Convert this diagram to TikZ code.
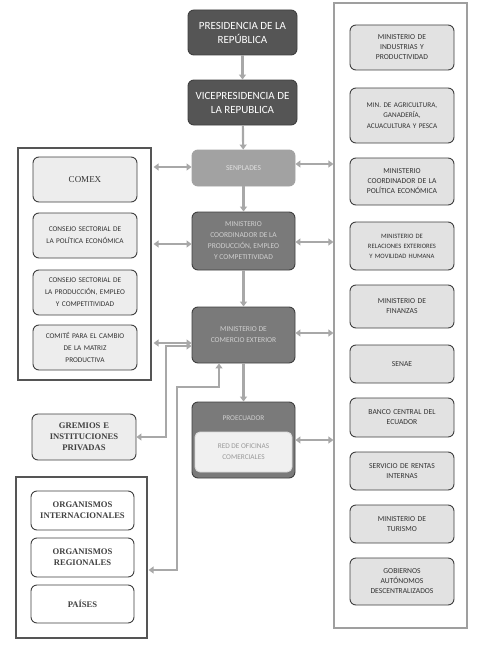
\documentclass[tikz,border=0pt]{standalone}
\usepackage{fontspec}
\setmainfont{Liberation Serif}
\newfontfamily\carl{Carlito}
\usetikzlibrary{arrows.meta,positioning,calc}
\definecolor{darkbox}{HTML}{555555}
\definecolor{midbox}{HTML}{7A7A7A}
\definecolor{lightmid}{HTML}{A2A2A2}
\definecolor{arrowgray}{HTML}{A8A8A8}
\definecolor{edgegray}{HTML}{3F3F3F}
\definecolor{boxfill}{HTML}{E2E2E2}
\definecolor{paleFill}{HTML}{EDEDED}
\definecolor{faint}{HTML}{CFCFCF}
\tikzset{
  rbox/.style={draw=edgegray, line width=0.9pt, rounded corners=6pt, align=center, inner sep=1pt},
  topbox/.style={rbox, fill=darkbox, text=white, font=\carl\fontsize{11}{14}\selectfont, minimum width=109pt, minimum height=45pt},
  centbox/.style={rbox, fill=midbox, text=faint, font=\carl\fontsize{7.5}{11}\selectfont, minimum width=103pt},
  rightbox/.style={rbox, fill=boxfill, text=black!80, font=\carl\fontsize{7.6}{10}\selectfont, minimum width=104pt, text width=102pt},
  leftbox/.style={rbox, fill=paleFill, text=black!80, font=\carl\fontsize{7.3}{12}\selectfont, minimum width=104pt, minimum height=45pt, text width=102pt},
  serifbox/.style={rbox, fill=white, text=black!75, font=\bfseries\fontsize{8.6}{11}\selectfont, minimum width=103pt, text width=101pt},
  frame/.style={draw=#1, line width=1.2pt, fill=white},
  conn/.style={draw=arrowgray, line width=2.2pt, -{Triangle[length=5pt,width=7pt]}},
  dconn/.style={draw=arrowgray, line width=2.2pt, {Triangle[length=5pt,width=7pt]}-{Triangle[length=5pt,width=7pt]}},
}
\begin{document}
\begin{tikzpicture}[x=1pt,y=-1pt]
\useasboundingbox (0,0) rectangle (487,661);
% frames
\node[frame=gray!75, minimum width=133pt, minimum height=625pt, inner sep=0pt] (rf) at (400.5,315.5) {};
\node[frame=darkbox, minimum width=133pt, minimum height=232pt, inner sep=0pt] (lf) at (84.5,264) {};
\node[frame=darkbox, minimum width=131pt, minimum height=161pt, inner sep=0pt] (bf) at (81.5,557.5) {};

% central column
\node[topbox] (pres) at (242.5,32.5) {PRESIDENCIA DE LA\\REPÚBLICA};
\node[topbox] (vice) at (242.5,102.5) {VICEPRESIDENCIA DE\\LA REPUBLICA};
\node[centbox, fill=lightmid, minimum height=36pt, draw=lightmid, text=white!88!black] (senp) at (243.5,168) {SENPLADES};
\node[centbox, minimum height=58pt] (mcp) at (243.5,241) {MINISTERIO\\COORDINADOR DE LA\\PRODUCCIÓN, EMPLEO\\Y COMPETITIVIDAD};
\node[centbox, minimum height=56pt] (mce) at (243.5,335) {MINISTERIO DE\\COMERCIO EXTERIOR};
\node[centbox, minimum height=76pt] (proe) at (243.5,440) {};
\node[font=\carl\fontsize{7.3}{9}\selectfont, text=faint] (proet) at (243.5,418) {PROECUADOR};
\node[rbox, draw=white!85!black, fill=white!94!black, rounded corners=5pt, minimum width=97pt, minimum height=40pt, text=black!40, font=\carl\fontsize{7.3}{11}\selectfont] (red) at (243.5,452) {RED DE OFICINAS\\COMERCIALES};

% left column
\node[leftbox, font=\fontsize{9}{11}\selectfont] (comex) at (85,179.5) {COMEX};
\node[leftbox] (cs1) at (85,235.5) {CONSEJO SECTORIAL DE\\LA POLÍTICA ECONÓMICA};
\node[leftbox] (cs2) at (85,292.5) {CONSEJO SECTORIAL DE\\LA PRODUCCIÓN, EMPLEO\\Y COMPETITIVIDAD};
\node[leftbox] (cmt) at (85,347.5) {COMITÉ PARA EL CAMBIO\\DE LA MATRIZ\\PRODUCTIVA};
\node[serifbox, fill=paleFill, minimum height=46pt, minimum width=104pt] (grem) at (84,437) {GREMIOS E\\INSTITUCIONES\\PRIVADAS};
\node[serifbox, minimum height=39pt] (oi) at (82.5,510.5) {ORGANISMOS\\INTERNACIONALES};
\node[serifbox, minimum height=39pt] (or) at (82.5,557.5) {ORGANISMOS\\REGIONALES};
\node[serifbox, minimum height=38pt] (pai) at (82.5,604) {PAÍSES};

% right column
\node[rightbox, minimum height=45pt] (r1) at (402,47.5) {MINISTERIO DE\\INDUSTRIAS Y\\PRODUCTIVIDAD};
\node[rightbox, minimum height=55pt, font=\carl\fontsize{7.2}{10.5}\selectfont] (r2) at (402,115.5) {MIN.\ DE AGRICULTURA,\\GANADERÍA,\\ACUACULTURA Y PESCA};
\node[rightbox, minimum height=47pt] (r3) at (402,181.5) {MINISTERIO\\COORDINADOR DE LA\\POLÍTICA ECONÓMICA};
\node[rightbox, minimum height=48pt, font=\carl\fontsize{6.6}{10}\selectfont] (r4) at (402,246) {MINISTERIO DE\\RELACIONES EXTERIORES\\Y MOVILIDAD HUMANA};
\node[rightbox, minimum height=43pt] (r5) at (402,306.5) {MINISTERIO DE\\FINANZAS};
\node[rightbox, minimum height=38pt] (r6) at (402,364) {SENAE};
\node[rightbox, minimum height=39pt] (r7) at (402,417.5) {BANCO CENTRAL DEL\\ECUADOR};
\node[rightbox, minimum height=38pt] (r8) at (402,471) {SERVICIO DE RENTAS\\INTERNAS};
\node[rightbox, minimum height=38pt] (r9) at (402,524) {MINISTERIO DE\\TURISMO};
\node[rightbox, minimum height=47pt] (r10) at (402,581.5) {GOBIERNOS\\AUTÓNOMOS\\DESCENTRALIZADOS};

% vertical chain
\draw[conn] (pres) -- (vice);
\draw[conn] (vice) -- (senp);
\draw[conn] (senp) -- (mcp);
\draw[conn] (mcp) -- (mce);
\draw[conn] (mce) -- (proe);

% left double arrows
\draw[dconn] ([yshift=1pt]senp.west -| lf.east) ++(2,0) -- ([yshift=1pt]senp.west);
\draw[dconn] ([yshift=-3pt]mcp.west -| lf.east) ++(2,0) -- ([yshift=-3pt]mcp.west);
\draw[dconn] ([yshift=-8pt]mce.west -| lf.east) ++(2,0) -- ([yshift=-8pt]mce.west);

% right double arrows
\draw[dconn] ([yshift=4pt]senp.east) -- ([yshift=4pt]senp.east -| rf.west);
\draw[dconn] ([yshift=-1pt]mcp.east) -- ([yshift=-1pt]mcp.east -| rf.west);
\draw[dconn] ([yshift=2pt]mce.east) -- ([yshift=2pt]mce.east -| rf.west);
\draw[dconn] (proe.east) -- (proe.east -| rf.west);

% gremios connector
\coordinate (g1) at (166,346);
\draw[dconn] (grem.east) -- (grem.east -| g1) -- (g1) -- (g1 -| mce.west);
% organismos connector
\coordinate (o1) at (177,387);
\coordinate (o2) at (219,387);
\draw[dconn] (bf.east |- 0,570) ++(1,0) -- (o1 |- 0,570) -- (o1) -- (o2) -- (o2 |- mce.south);
\end{tikzpicture}
\end{document}
